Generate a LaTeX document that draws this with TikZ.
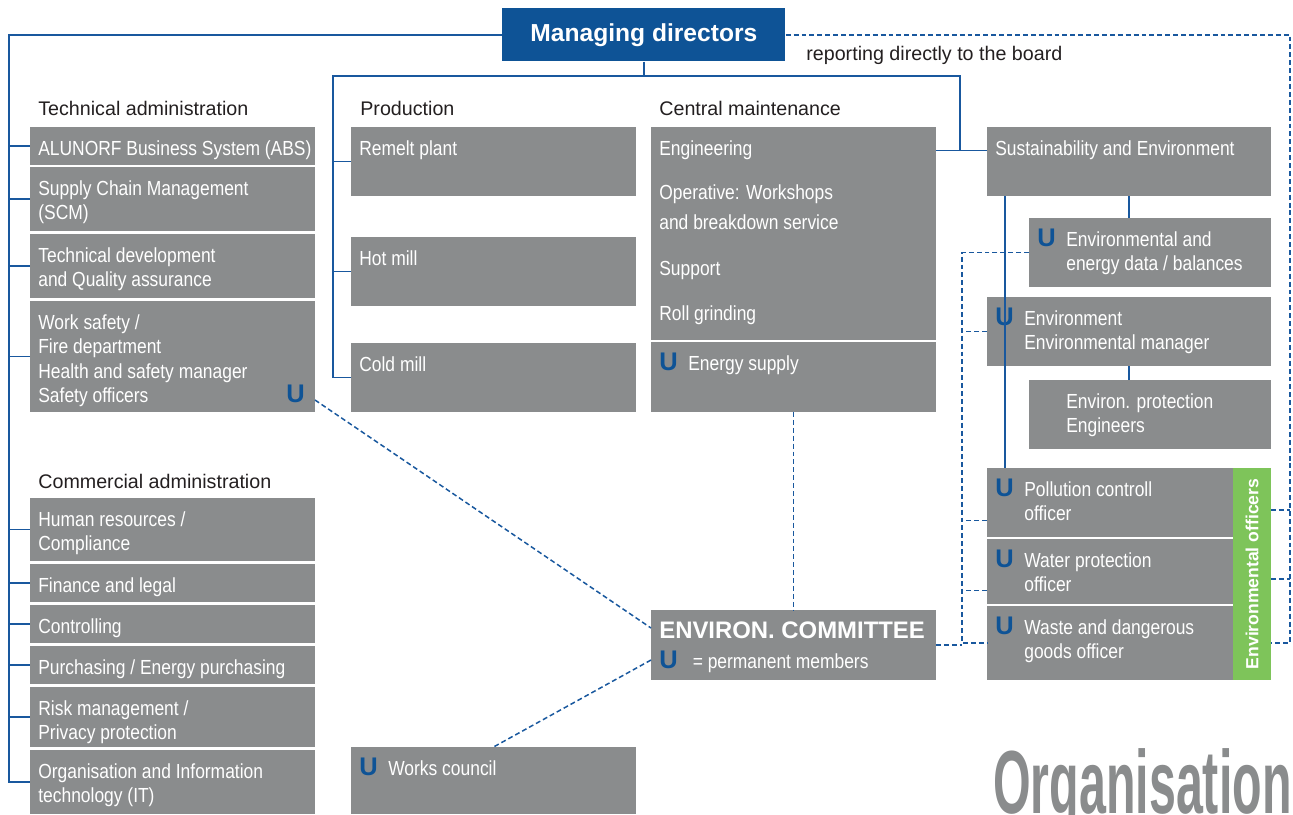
\documentclass[tikz,border=0pt]{standalone}
\usepackage{fontspec}
\setmainfont{Liberation Sans}[FakeStretch=0.855]
\newfontfamily\widefont{Liberation Sans}
\newfontfamily\titlefont{Liberation Sans}[FakeStretch=0.54]

\definecolor{boxgray}{RGB}{138,140,141}
\definecolor{dirblue}{RGB}{14,83,150}
\definecolor{lineblue}{RGB}{25,88,158}
\definecolor{ublue}{RGB}{14,83,150}
\definecolor{offgreen}{RGB}{126,196,90}
\definecolor{headblack}{RGB}{35,31,32}

\tikzset{
  cell/.style={fill=boxgray, anchor=north west, inner sep=0pt, outer sep=0pt},
  celltext/.style={text=white, anchor=north west, align=left, inner sep=0pt, font=\fontsize{11.6}{13.9}\selectfont},
  head/.style={text=headblack, anchor=base west, inner sep=0pt, font=\widefont\fontsize{11.2}{13.9}\selectfont},
  umark/.style={anchor=base west, inner sep=0pt, text=ublue, font=\widefont\bfseries\fontsize{14.5}{14.5}\selectfont},
  tie/.style={draw=lineblue, line width=1pt},
  link/.style={draw=lineblue, line width=0.85pt, dash pattern=on 2.8pt off 1.7pt},
}

% 方框：名字, x, y, 宽, 高, 文字
\newcommand{\orgbox}[7][8]{%
  \node[cell, minimum width=#5*0.02cm, minimum height=#6*0.02cm] (#2) at (#3,#4) {};
  \node[celltext] (#2-t) at ([shift={(#1,11)}]#2.north west) {\strut #7};}
\newcommand{\uorgbox}[6]{%
  \orgbox[37]{#1}{#2}{#3}{#4}{#5}{#6}
  \node[umark] (#1-u) at ([shift={(8,28)}]#1.north west) {U};}
\newcommand{\umk}{\textcolor{ublue}{\widefont\bfseries\fontsize{14.5}{14.5}\selectfont U}}

\begin{document}
\begin{tikzpicture}[x=0.02cm, y=-0.02cm]
    \useasboundingbox (0,0) rectangle (1293,814);

    % 总经理
    \node[fill=dirblue, anchor=north west, inner sep=0pt, minimum width=283*0.02cm, minimum height=53*0.02cm,
          text=white, font=\widefont\bfseries\fontsize{14}{14}\selectfont] (mgmt) at (502,8) {Managing directors};
    \node[head] (board-t) at (806,61) {reporting directly to the board};

    % 技术管理
    \node[head] (tech-h) at (38,116) {Technical administration};
    \orgbox{tabs}{30}{127}{285}{38}{ALUNORF Business System (ABS)}
    \orgbox{tscm}{30}{167}{285}{64}{Supply Chain Management\\(SCM)}
    \orgbox{tdev}{30}{234}{285}{64}{Technical development\\and Quality assurance}
    \orgbox{tsafe}{30}{301}{285}{111}{Work safety /\\Fire department\\Health and safety manager\\Safety officers}
    \node[umark] (tsafe-u) at ([shift={(256,101)}]tsafe.north west) {U};

    % 商务管理
    \node[head] (com-h) at (38,488) {Commercial administration};
    \orgbox{chr}{30}{498}{285}{63}{Human resources /\\Compliance}
    \orgbox{cfin}{30}{564}{285}{38}{Finance and legal}
    \orgbox{cctl}{30}{605}{285}{38}{Controlling}
    \orgbox{cpur}{30}{646}{285}{38}{Purchasing / Energy purchasing}
    \orgbox{crisk}{30}{687}{285}{60}{Risk management /\\Privacy protection}
    \orgbox{cit}{30}{750}{285}{64}{Organisation and Information\\technology (IT)}

    % 生产
    \node[head] (prod-h) at (360,116) {Production};
    \orgbox{remelt}{351}{127}{285}{69}{Remelt plant}
    \orgbox{hotmill}{351}{237}{285}{69}{Hot mill}
    \orgbox{coldmill}{351}{343}{285}{69}{Cold mill}
    \uorgbox{works}{351}{747}{285}{67}{Works council}

    % 中央维修
    \node[head] (maint-h) at (659,116) {Central maintenance};
    \orgbox{maint}{651}{127}{285}{213}{Engineering}
    \node[celltext] (maint-ops) at ([shift={(8,55)}]maint.north west) {\strut Operative: Workshops\\[0.11cm]and breakdown service};
    \node[celltext] (maint-sup) at ([shift={(8,131)}]maint.north west) {\strut Support};
    \node[celltext] (maint-roll) at ([shift={(8,176)}]maint.north west) {\strut Roll grinding};
    \uorgbox{energy}{651}{342}{285}{70}{Energy supply}
    \orgbox{committee}{651}{610}{285}{70}{{\widefont\bfseries\fontsize{13.6}{13.6}\selectfont ENVIRON. COMMITTEE}\\[0.06cm]\umk\hspace{0.3cm}= permanent members}

    % 可持续发展与环境
    \orgbox{sust}{987}{127}{284}{69}{Sustainability and Environment}
    \uorgbox{envdata}{1029}{218}{242}{69}{Environmental and\\energy data / balances}
    \uorgbox{envman}{987}{297}{284}{69}{Environment\\Environmental manager}
    \orgbox[37]{envprot}{1029}{380}{242}{69}{Environ. protection\\Engineers}
    \uorgbox{offpol}{987}{468}{246}{69}{Pollution controll\\officer}
    \uorgbox{offwater}{987}{539}{246}{65}{Water protection\\officer}
    \uorgbox{offwaste}{987}{606}{246}{74}{Waste and dangerous\\goods officer}
    \node[cell, fill=offgreen, minimum width=38*0.02cm, minimum height=212*0.02cm] (offcol) at (1233,468) {};
    \node[rotate=90, inner sep=0pt, text=white, font=\widefont\bfseries\fontsize{10}{10}\selectfont] (offcol-t) at (offcol.center) {Environmental officers};

    \node[anchor=base east, inner sep=0pt, text=boxgray, font=\titlefont\bfseries\fontsize{51}{51}\selectfont] (title) at (1292,813) {Organisation};

    % 实线：组织关系
    \coordinate (lbus) at (9,0);
    \coordinate (pbus) at (333,76);
    \coordinate (rbus) at (960,76);
    \coordinate (sbus) at (1005,0);
    \draw[tie] (mgmt.west) -| (lbus |- cit.west) -- (cit.west);
    \foreach \n in {tabs,tscm,tdev,tsafe,chr,cfin,cctl,cpur,crisk}
        \draw[tie] (lbus |- \n.west) -- (\n.west);
    \draw[tie] (mgmt.south) -- (mgmt.south |- pbus);
    \draw[tie] (coldmill.west) -| (pbus) -- (rbus) -- (rbus |- maint-t.west);
    \draw[tie] (pbus |- remelt.west) -- (remelt.west);
    \draw[tie] (pbus |- hotmill.west) -- (hotmill.west);
    \draw[tie] (maint.east |- maint-t.west) -- (sust.west |- maint-t.west);
    \draw[tie] (sbus |- sust.south) -- (sbus |- offpol.north);
    \draw[tie] (sust.south) -- (sust.south |- envdata.north);
    \draw[tie] (envman.south) -- (envman.south |- envprot.north);

    % 虚线：直接汇报 / 环境委员会
    \coordinate (board) at (1290,0);
    \coordinate (dbus) at (962,0);
    \draw[link] (mgmt.east) -| (board |- offwaste.east) -- (offcol.east |- offwaste.east);
    \draw[link] ([yshift=1.28cm]offcol.east) -- ++(19,0);
    \draw[link] ([yshift=-0.1cm]offcol.east) -- ++(19,0);
    \draw[link] (envdata.west) -| (dbus |- offwaste.west) -- (offwaste.west);
    \draw[link] (envman.west) -- (dbus |- envman.west);
    \draw[link] ([yshift=-0.36cm]offpol.west) -- ++(-25,0);
    \draw[link] ([yshift=-0.38cm]offwater.west) -- ++(-25,0);
    \draw[link] (committee.east) -- (dbus |- committee.east);
    \draw[link] (energy.south) -- (committee.north);
    \draw[link] ([shift={(0,-12)}]tsafe.south east) -- ([shift={(0,18)}]committee.north west);
    \draw[link] ([shift={(0,50)}]committee.north west) -- (works.north);
\end{tikzpicture}
\end{document}
